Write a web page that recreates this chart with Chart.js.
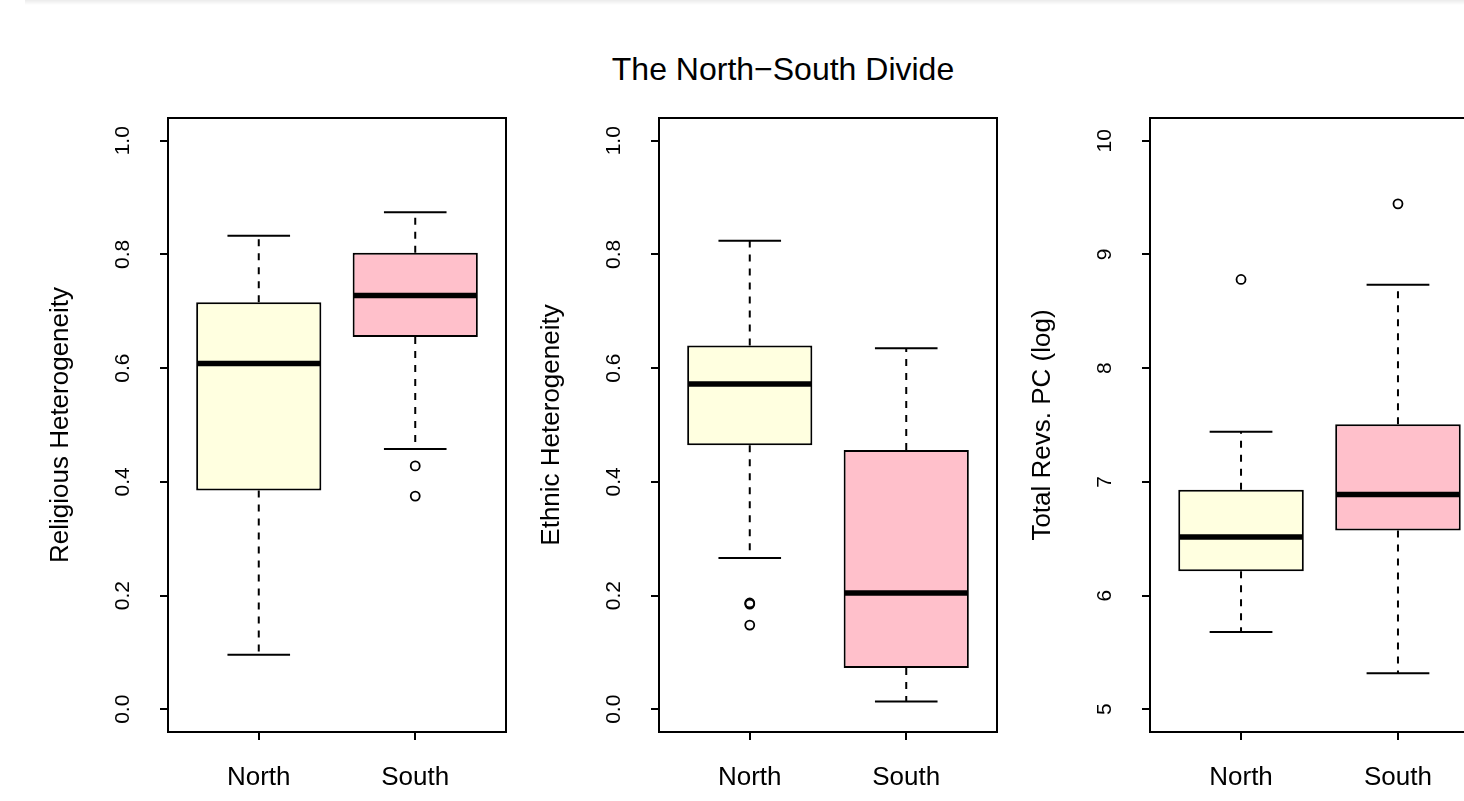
<!DOCTYPE html>
<html>
<head>
<meta charset="utf-8">
<title>The North−South Divide</title>
<script src="https://cdn.jsdelivr.net/npm/chart.js@4.4.1/dist/chart.umd.min.js"></script>
<style>
  html, body { margin: 0; padding: 0; background: #fff; }
  #page { position: relative; width: 1464px; height: 801px; overflow: hidden; }
  #shade { position: absolute; left: 25px; top: 0; right: 0; height: 5px; background: linear-gradient(#ebebeb, #fff); }
  #title { position: absolute; left: 0; width: 1566px; top: 51px; text-align: center; line-height: 32px;
           font: 32px "Liberation Sans", Arial, sans-serif; color: #000; }
  canvas { position: absolute; top: 0; }
</style>
</head>
<body>
<div id="page">
  <div id="shade"></div>
  <div id="title">The North−South Divide</div>
  <canvas id="c1" width="491" height="801" style="left:25px"></canvas>
  <canvas id="c2" width="491" height="801" style="left:516px"></canvas>
  <canvas id="c3" width="491" height="801" style="left:1007px"></canvas>
</div>
<script>
const FONT = '"Liberation Sans", Arial, sans-serif';

// groups and box colours
const groups = ['North', 'South'];
const groupPos = [1, 2];
const boxColors = ['#FFFFE0', '#FFC0CB'];

// Religious Heterogeneity
const religLow = [0.096, 0.458];
const religQ1 = [0.385, 0.655];
const religMed = [0.608, 0.728];
const religQ3 = [0.716, 0.803];
const religHigh = [0.833, 0.874];
const religOutliers = [[], [0.428, 0.375]];

// Ethnic Heterogeneity
const ethnicLow = [0.266, 0.0135];
const ethnicQ1 = [0.4645, 0.0725];
const ethnicMed = [0.572, 0.2045];
const ethnicQ3 = [0.640, 0.456];
const ethnicHigh = [0.824, 0.635];
const ethnicOutliers = [[0.187, 0.185, 0.148], []];

// Total Revs. PC (log)
const revsLow = [5.68, 5.317];
const revsQ1 = [6.214, 6.572];
const revsMed = [6.516, 6.888];
const revsQ3 = [6.93, 7.507];
const revsHigh = [7.44, 8.733];
const revsOutliers = [[8.78], [9.445]];

// tick labels
const shareTicks = [0, 0.2, 0.4, 0.6, 0.8, 1.0];
const shareTickLabels = ['0.0', '0.2', '0.4', '0.6', '0.8', '1.0'];
const revsTicks = [5, 6, 7, 8, 9, 10];
const revsTickLabels = ['5', '6', '7', '8', '9', '10'];

// whiskers, caps and medians drawn through the chart's scales
function boxPlugin(low, med, high) {
    return {
        id: 'boxParts',
        afterDatasetsDraw(chart) {
            const {ctx, scales: {x, y}} = chart;
            ctx.save();
            ctx.strokeStyle = '#000';
            groupPos.forEach((p, i) => {
                const q1 = chart.data.datasets[0].data[i].y[0];
                const q3 = chart.data.datasets[0].data[i].y[1];
                const cx = x.getPixelForValue(p);
                const capL = x.getPixelForValue(p - 0.2);
                const capR = x.getPixelForValue(p + 0.2);
                const boxL = x.getPixelForValue(p - 0.4);
                const boxR = x.getPixelForValue(p + 0.4);

                // dashed whiskers
                ctx.lineWidth = 2;
                ctx.setLineDash([7, 7]);
                ctx.beginPath();
                ctx.moveTo(cx, y.getPixelForValue(q3));
                ctx.lineTo(cx, y.getPixelForValue(high[i]));
                ctx.moveTo(cx, y.getPixelForValue(q1));
                ctx.lineTo(cx, y.getPixelForValue(low[i]));
                ctx.stroke();

                // caps
                ctx.setLineDash([]);
                ctx.beginPath();
                ctx.moveTo(capL, y.getPixelForValue(high[i]));
                ctx.lineTo(capR, y.getPixelForValue(high[i]));
                ctx.moveTo(capL, y.getPixelForValue(low[i]));
                ctx.lineTo(capR, y.getPixelForValue(low[i]));
                ctx.stroke();

                // median
                ctx.lineWidth = 5.5;
                ctx.beginPath();
                ctx.moveTo(boxL + 1, y.getPixelForValue(med[i]));
                ctx.lineTo(boxR - 1, y.getPixelForValue(med[i]));
                ctx.stroke();
            });
            ctx.restore();
        },
        afterDraw(chart) {
            const {ctx, chartArea: a} = chart;
            ctx.save();
            ctx.strokeStyle = '#000';
            ctx.lineWidth = 2;
            ctx.strokeRect(a.left, a.top, a.right - a.left, a.bottom - a.top);
            ctx.restore();
        }
    };
}

function makePanel(id, p) {
    const outlierPoints = [];
    p.outliers.forEach((list, i) => list.forEach(v => outlierPoints.push({x: groupPos[i], y: v})));

    new Chart(document.getElementById(id), {
        type: 'bar',
        data: {
            datasets: [{
                type: 'bar',
                data: groupPos.map((g, i) => ({x: g, y: [p.q1[i], p.q3[i]]})),
                backgroundColor: boxColors,
                borderColor: '#000',
                borderWidth: 2,
                borderSkipped: false,
                barPercentage: 0.8,
                categoryPercentage: 1
            }, {
                type: 'scatter',
                data: outlierPoints,
                pointStyle: 'circle',
                pointRadius: 4.5,
                borderColor: '#000',
                borderWidth: 1.8,
                backgroundColor: 'rgba(0,0,0,0)'
            }]
        },
        options: {
            responsive: false,
            animation: false,
            events: [],
            layout: {padding: {left: 0, top: 118, right: p.right, bottom: 0}},
            plugins: {legend: {display: false}, tooltip: {enabled: false}},
            scales: {
                x: {
                    type: 'linear',
                    min: 0.42,
                    max: 2.58,
                    offset: false,
                    afterBuildTicks: s => { s.ticks = groupPos.map(v => ({value: v})); },
                    afterFit: s => { s.height = 69; },
                    ticks: {
                        autoSkip: false,
                        maxRotation: 0,
                        padding: 22,
                        color: '#000',
                        font: {size: 26, family: FONT},
                        callback: v => groups[groupPos.indexOf(v)]
                    },
                    grid: {offset: false, drawOnChartArea: false, drawTicks: true, tickLength: 8, color: '#000', lineWidth: 2},
                    border: {display: false}
                },
                y: {
                    type: 'linear',
                    min: p.min,
                    max: p.max,
                    afterBuildTicks: s => { s.ticks = p.ticks.map(v => ({value: v})); },
                    afterFit: s => { s.width = 143; },
                    ticks: {
                        minRotation: 90,
                        maxRotation: 90,
                        crossAlign: 'center',
                        padding: p.tickPad,
                        color: '#000',
                        font: {size: 21, family: FONT},
                        callback: v => p.tickLabels[p.ticks.indexOf(v)]
                    },
                    grid: {drawOnChartArea: false, drawTicks: true, tickLength: 8, color: '#000', lineWidth: 2},
                    border: {display: false},
                    title: {
                        display: true,
                        text: p.title,
                        color: '#000',
                        font: {size: 26, family: FONT},
                        padding: {top: 20, bottom: 0}
                    }
                }
            }
        },
        plugins: [boxPlugin(p.low, p.med, p.high)]
    });
}

makePanel('c1', {
    title: 'Religious Heterogeneity', min: -0.04, max: 1.04, ticks: shareTicks, tickLabels: shareTickLabels,
    tickPad: 22, right: 10,
    low: religLow, q1: religQ1, med: religMed, q3: religQ3, high: religHigh, outliers: religOutliers
});
makePanel('c2', {
    title: 'Ethnic Heterogeneity', min: -0.04, max: 1.04, ticks: shareTicks, tickLabels: shareTickLabels,
    tickPad: 22, right: 10,
    low: ethnicLow, q1: ethnicQ1, med: ethnicMed, q3: ethnicQ3, high: ethnicHigh, outliers: ethnicOutliers
});
makePanel('c3', {
    title: 'Total Revs. PC (log)', min: 4.8, max: 10.2, ticks: revsTicks, tickLabels: revsTickLabels,
    tickPad: 25, right: 9,
    low: revsLow, q1: revsQ1, med: revsMed, q3: revsQ3, high: revsHigh, outliers: revsOutliers
});
</script>
</body>
</html>
